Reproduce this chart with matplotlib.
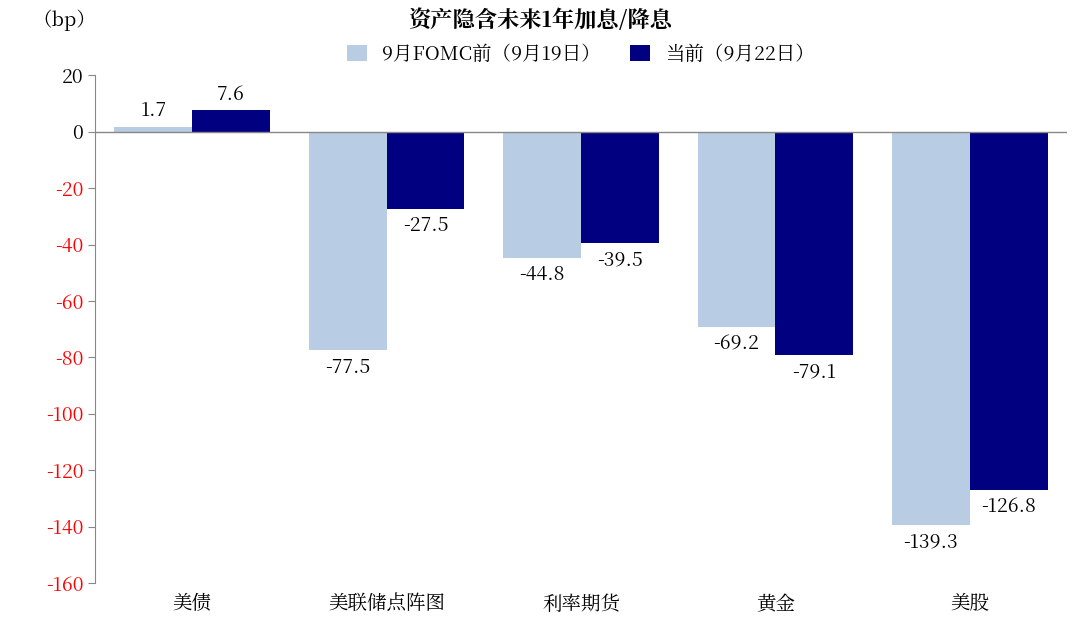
import numpy as np
import matplotlib.pyplot as plt
from matplotlib import font_manager

# register CJK font files explicitly in case name lookup fails
for f in font_manager.findSystemFonts():
    if 'CJK' in f or 'cjk' in f.lower():
        try:
            font_manager.fontManager.addfont(f)
        except Exception:
            pass
cjk = [n.name for n in font_manager.fontManager.ttflist if 'CJK' in n.name]
plt.rcParams['font.family'] = 'sans-serif'
plt.rcParams['font.sans-serif'] = (['Noto Sans CJK SC'] if 'Noto Sans CJK SC' in cjk else cjk[:1]) + ['DejaVu Sans']

categories = ['美债', '美联储点阵图', '利率期货', '黄金', '美股']
before = [1.7, -77.5, -44.8, -69.2, -139.3]
current = [7.6, -27.5, -39.5, -79.1, -126.8]
series_names = ['9月FOMC前（9月19日）', '当前（9月22日）']
yticks = list(range(20, -161, -20))

fig = plt.figure(figsize=(10.8, 6.43), dpi=100)
ax = fig.add_axes([0.088, 0.093, 0.9, 0.79])

x = np.arange(len(categories))
w = 0.4
b1 = ax.bar(x - w / 2, before, w, color='#B8CCE4', label=series_names[0])
b2 = ax.bar(x + w / 2, current, w, color='#000080', label=series_names[1])

for bars, vals in ((b1, before), (b2, current)):
    for rect, v in zip(bars, vals):
        cx = rect.get_x() + rect.get_width() / 2
        if v >= 0:
            ax.text(cx, v + 2, f'{v:.1f}', ha='center', va='bottom', fontsize=14)
        else:
            ax.text(cx, v - 2.5, f'{v:.1f}', ha='center', va='top', fontsize=14)

ax.set_xlim(-0.5, len(categories) - 0.5)
ax.set_ylim(-160, 20)
ax.set_yticks(yticks)
ax.set_yticklabels([str(t) for t in yticks], fontsize=14)
for lbl, t in zip(ax.get_yticklabels(), yticks):
    lbl.set_color('red' if t < 0 else 'black')
ax.axhline(0, color='#888888', lw=1)
ax.set_xticks(x)
ax.set_xticklabels(categories, fontsize=14)
ax.tick_params(axis='x', length=0, pad=8)
ax.tick_params(axis='y', direction='out', length=5, color='#888888')
for s in ('top', 'right', 'bottom'):
    ax.spines[s].set_visible(False)
ax.spines['left'].set_color('#888888')

fig.text(0.5, 0.968, '资产隐含未来1年加息/降息', ha='center', va='center',
         fontsize=16, fontweight='bold')
fig.text(0.03, 0.968, '（bp）', ha='left', va='center', fontsize=14)
ax.legend(loc='center', bbox_to_anchor=(0.5, 1.04), ncol=2, frameon=False,
          fontsize=14, handlelength=1.0, handleheight=0.9, columnspacing=1.5)

fig.savefig('out.png', dpi=100)
